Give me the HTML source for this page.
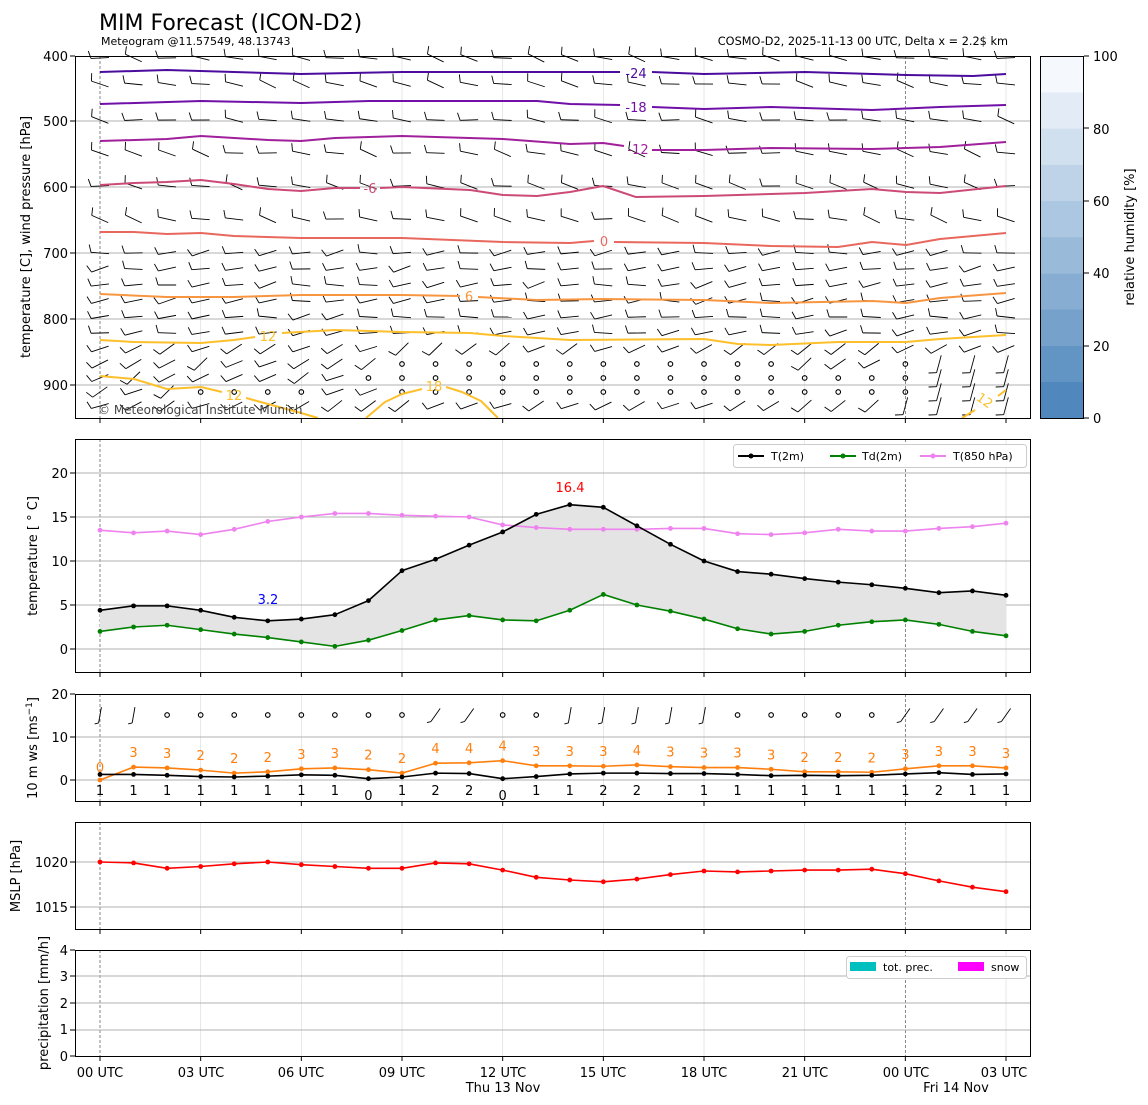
<!DOCTYPE html>
<html><head><meta charset="utf-8"><style>
body{margin:0;background:#fff;}
svg{display:block;font-family:"DejaVu Sans","Liberation Sans",sans-serif;}
</style></head><body>
<svg id="s" width="1148" height="1105" viewBox="0 0 1148 1105" xmlns="http://www.w3.org/2000/svg">
<rect width="1148" height="1105" fill="#fff"/>
<text x="99" y="30" font-size="22">MIM Forecast (ICON-D2)</text>
<text x="101" y="45" font-size="11">Meteogram @11.57549, 48.13743</text>
<text x="1008" y="45" font-size="11.3" text-anchor="end">COSMO-D2, 2025-11-13 00 UTC, Delta x = 2.2$ km</text>
<g id="grid" stroke-width="1"></g>
<g id="bars"></g>
<g id="plot"></g>
<g fill="none" stroke="#000" stroke-width="1">
<rect x="75.5" y="56.5" width="955" height="362"/>
<rect x="75.5" y="439.5" width="955" height="233"/>
<rect x="75.5" y="694.5" width="955" height="107"/>
<rect x="75.5" y="822.5" width="955" height="107"/>
<rect x="75.5" y="950.5" width="955" height="106"/>
<rect x="1040.5" y="56.5" width="43" height="362"/>
</g>
<g font-size="13" text-anchor="end">
<text x="68" y="61">400</text><text x="68" y="126">500</text><text x="68" y="192">600</text><text x="68" y="258">700</text><text x="68" y="324">800</text><text x="68" y="390">900</text>
<text x="68" y="478">20</text><text x="68" y="522">15</text><text x="68" y="566">10</text><text x="68" y="610">5</text><text x="68" y="654">0</text>
<text x="68" y="699">20</text><text x="68" y="742">10</text><text x="68" y="785">0</text>
<text x="68" y="867">1020</text><text x="68" y="912">1015</text>
<text x="68" y="955">4</text><text x="68" y="981">3</text><text x="68" y="1008">2</text><text x="68" y="1034">1</text><text x="68" y="1061">0</text>
</g>
<g font-size="13">
<text x="1093" y="61">100</text><text x="1093" y="134">80</text><text x="1093" y="206">60</text><text x="1093" y="278">40</text><text x="1093" y="351">20</text><text x="1093" y="423">0</text>
</g>
<g font-size="13" text-anchor="middle">
<text transform="translate(30,237) rotate(-90)">temperature [C], wind pressure [hPa]</text>
<text transform="translate(37,556) rotate(-90)">temperature [ ° C]</text>
<text transform="translate(37,748) rotate(-90)">10 m ws [ms<tspan font-size="9" dy="-5">−1</tspan><tspan dy="5">]</tspan></text>
<text transform="translate(20,876) rotate(-90)">MSLP [hPa]</text>
<text transform="translate(48,1003) rotate(-90)">precipitation [mm/h]</text>
<text transform="translate(1134,237) rotate(-90)">relative humidity [%]</text>
</g>
<g font-size="13" text-anchor="middle">
<text x="100" y="1077">00 UTC</text><text x="201" y="1077">03 UTC</text><text x="301" y="1077">06 UTC</text><text x="402" y="1077">09 UTC</text><text x="503" y="1077">12 UTC</text><text x="603" y="1077">15 UTC</text><text x="704" y="1077">18 UTC</text><text x="805" y="1077">21 UTC</text><text x="906" y="1077">00 UTC</text><text x="1004" y="1077">03 UTC</text>
<text x="503" y="1092">Thu 13 Nov</text><text x="956" y="1092">Fri 14 Nov</text>
</g>
<g font-size="13" text-anchor="middle">
<text x="636" y="78" fill="#4b0c9e">-24</text>
<text x="636" y="112" fill="#7010a6">-18</text>
<text x="638" y="154" fill="#a0209c">-12</text>
<text x="370" y="193" fill="#cc4a78">-6</text>
<text x="604" y="246" fill="#e8685e">0</text>
<text x="469" y="301" fill="#f89540">6</text>
<text x="268" y="341" fill="#fdbf2a">12</text>
<text x="234" y="400" fill="#fdbf2a">12</text>
<text x="434" y="391" fill="#fdbf2a">18</text>
<text x="985" y="405" fill="#fdbf2a" transform="rotate(35 985 400)">12</text>
</g>
<text x="98" y="414" font-size="12" fill="#444">© Meteorological Institute Munich</text>
<text x="570" y="492" font-size="13" fill="red" text-anchor="middle">16.4</text>
<text x="268" y="604" font-size="13" fill="blue" text-anchor="middle">3.2</text>
<g font-size="11">
<rect x="733.5" y="444.5" width="293" height="23" fill="#fff" stroke="#ccc" rx="3"/>
<line x1="738" y1="456" x2="764" y2="456" stroke="#000" stroke-width="2"/><circle cx="751" cy="456" r="2.5"/>
<text x="771" y="460">T(2m)</text>
<line x1="830" y1="456" x2="856" y2="456" stroke="green" stroke-width="2"/><circle cx="843" cy="456" r="2.5" fill="green"/>
<text x="862" y="460">Td(2m)</text>
<line x1="920" y1="456" x2="946" y2="456" stroke="violet" stroke-width="2"/><circle cx="933" cy="456" r="2.5" fill="violet"/>
<text x="953" y="460">T(850 hPa)</text>
<rect x="846.5" y="956.5" width="180" height="22" fill="#fff" stroke="#ccc" rx="3"/>
<rect x="850" y="962" width="26" height="9" fill="#00bfbf"/><text x="883" y="971">tot. prec.</text>
<rect x="958" y="962" width="26" height="9" fill="#f0f"/><text x="991" y="971">snow</text>
</g>
<g id="labels3" font-size="13" text-anchor="middle"></g>
</svg>
<script>
const NS="http://www.w3.org/2000/svg";
const G=id=>document.getElementById(id);
function el(p,t,a){const e=document.createElementNS(NS,t);for(const k in a)e.setAttribute(k,a[k]);p.appendChild(e);return e;}
const X=h=>100+h*33.556;
const bars=G('bars');
for(let i=0;i<10;i++){const f=i/9;const r=Math.round(80+f*(245-80)),g=Math.round(136+f*(249-136)),b=Math.round(189+f*(253-189));
el(bars,'rect',{x:1040,y:418-(i+1)*36.2,width:44,height:36.4,fill:`rgb(${r},${g},${b})`});}
const grid=G('grid');
const panels=[[56,418],[439,672],[694,801],[822,929],[950,1056]];
for(const [a,b] of panels){
 for(let h=0;h<=27;h+=3){const x=X(h);
  if(h==0||h==24) el(grid,'line',{x1:x,x2:x,y1:a,y2:b,stroke:'#555','stroke-dasharray':'3,2','stroke-width':0.7});
  else el(grid,'line',{x1:x,x2:x,y1:a,y2:b,stroke:'#ddd','stroke-width':0.7});
  el(grid,'line',{x1:x,x2:x,y1:b,y2:b+5,stroke:'#000'});
 }
}
const hl=(ys)=>ys.forEach(y=>el(grid,'line',{x1:75,x2:1031,y1:y,y2:y,stroke:'#b0b0b0','stroke-width':1}));
hl([121,187,253,319,385,473,517,561,605,649,737,780,862,907,976,1003,1030]);
[56,121,187,253,319,385,473,517,561,605,649,694,737,780,862,907,950,976,1003,1030,1056].forEach(y=>el(grid,'line',{x1:70,x2:75,y1:y,y2:y,stroke:'#000'}));
[56,128,201,273,346,418].forEach(y=>el(grid,'line',{x1:1084,x2:1089,y1:y,y2:y,stroke:'#000'}));
const plot=G('plot');
const rows=[58,84,120,153,186,219,253,269,285,301,317,333,349,364,378,392,406];
function rnd(i){const v=Math.sin(i*12.9898)*43758.5453;return v-Math.floor(v);}
const calm={364:[9,10,11,12,13,14,15,16,17,18,19,20,24],378:[8,9,10,11,12,13,14,15,16,17,18,19,20,21,22,23,24],392:[3,4,5,6,9,10,11,12,13,14,15,16,17,18,19,20,21,22,23,24]};
const bg=el(plot,'g',{stroke:'#000','stroke-width':0.9,fill:'none'});
rows.forEach((y,ri)=>{for(let h=0;h<28;h++){const x=X(h);
 if(calm[y]&&calm[y].includes(h)){el(bg,'circle',{cx:x,cy:y,r:2.3,'stroke-width':1.1});continue;}
 let ang=(ri<6?12:(ri<12?-8:-30))+ (rnd(ri*31+h)-0.5)*30;
 if(h>=24&&ri>=13) ang=-75;
 const a=ang*Math.PI/180;
 const x1=x-9*Math.cos(a),y1=y-9*Math.sin(a),x2=x+9*Math.cos(a),y2=y+9*Math.sin(a);
 el(bg,'line',{x1:x1,y1:y1,x2:x2,y2:y2});
 const fa=a-Math.PI/2-0.3;
 el(bg,'line',{x1:x1,y1:y1,x2:x1+8*Math.cos(fa),y2:y1+8*Math.sin(fa)});
}});
function poly(pts,c,w){el(plot,'polyline',{points:pts.map(p=>p.join(',')).join(' '),fill:'none',stroke:c,'stroke-width':w||2,'stroke-linejoin':'round'});}
poly([[100,72],[167,70],[234,72],[301,74],[402,72],[503,72],[620,72]],'#4b0c9e');poly([[652,72],[704,74],[805,72],[906,75],[973,76],[1006,74]],'#4b0c9e');
poly([[100,104],[201,101],[301,103],[369,101],[537,101],[570,104],[620,105]],'#7010a6');poly([[652,107],[704,109],[771,107],[872,110],[940,107],[1006,105]],'#7010a6');
poly([[100,141],[167,139],[201,136],[268,140],[301,141],[335,138],[402,136],[503,139],[570,144],[603,143],[624,146]],'#a0209c');poly([[652,150],[704,150],[771,148],[872,149],[940,147],[1006,142]],'#a0209c');
poly([[100,185],[134,183],[167,182],[201,180],[234,184],[268,189],[301,191],[335,188],[360,188]],'#cc4a78');poly([[380,188],[402,187],[470,190],[503,195],[537,196],[570,192],[603,186],[636,197],[704,196],[805,193],[872,189],[906,192],[940,193],[1006,186]],'#cc4a78');
poly([[100,232],[134,232],[167,234],[201,233],[234,236],[301,238],[402,238],[503,242],[570,243],[594,241]],'#e8685e');poly([[614,242],[704,243],[771,246],[838,247],[872,242],[906,245],[940,239],[1006,233]],'#e8685e');
poly([[100,294],[167,297],[234,297],[301,295],[402,295],[460,296]],'#f89540');poly([[478,297],[537,300],[603,299],[704,300],[771,303],[872,301],[906,303],[940,298],[1006,293]],'#f89540');
poly([[100,340],[134,342],[201,343],[234,340],[255,337]],'#fdbf2a');poly([[282,333],[335,330],[402,332],[470,333],[503,336],[570,340],[704,339],[738,344],[771,345],[838,342],[906,342],[940,339],[1006,335]],'#fdbf2a');
poly([[100,376],[134,379],[167,389],[201,387],[222,392]],'#fdbf2a');poly([[246,398],[268,404],[301,413],[318,418]],'#fdbf2a');
poly([[366,418],[385,402],[402,394],[422,389]],'#fdbf2a');poly([[446,387],[462,392],[481,401],[498,418]],'#fdbf2a');
poly([[962,418],[975,410]],'#fdbf2a');poly([[998,396],[1006,390]],'#fdbf2a');
const T=[4.4,4.9,4.9,4.4,3.6,3.2,3.4,3.9,5.5,8.9,10.2,11.8,13.3,15.3,16.4,16.1,14.0,11.9,10.0,8.8,8.5,8.0,7.6,7.3,6.9,6.4,6.6,6.1];
const Td=[2.0,2.5,2.7,2.2,1.7,1.3,0.8,0.3,1.0,2.1,3.3,3.8,3.3,3.2,4.4,6.2,5.0,4.3,3.4,2.3,1.7,2.0,2.7,3.1,3.3,2.8,2.0,1.5];
const T8=[13.5,13.2,13.4,13.0,13.6,14.5,15.0,15.4,15.4,15.2,15.1,15.0,14.1,13.8,13.6,13.6,13.6,13.7,13.7,13.1,13.0,13.2,13.6,13.4,13.4,13.7,13.9,14.3];
const Y2=v=>649-v*8.8;
let fp=T.map((v,i)=>X(i)+','+Y2(v)).concat(Td.map((v,i)=>X(i)+','+Y2(v)).reverse());
el(plot,'polygon',{points:fp.join(' '),fill:'#e4e4e4'});
function series(d,yf,c){poly(d.map((v,i)=>[X(i),yf(v)]),c,1.6);d.forEach((v,i)=>el(plot,'circle',{cx:X(i),cy:yf(v),r:2.4,fill:c}));}
series(T8,Y2,'violet');series(Td,Y2,'green');series(T,Y2,'#000');
const Y3=v=>780-v*4.3;
const W=[1.3,1.3,1.1,0.8,0.7,0.9,1.2,1.1,0.3,0.7,1.6,1.5,0.3,0.8,1.4,1.6,1.6,1.5,1.5,1.3,1.0,1.1,1.0,1.1,1.4,1.7,1.3,1.4];
const Gs=[0,3,2.8,2.3,1.6,1.9,2.6,2.8,2.4,1.6,3.9,4.0,4.5,3.3,3.3,3.2,3.5,3.1,2.9,2.9,2.5,1.9,1.9,1.8,2.6,3.3,3.3,2.8];
const WL=[1,1,1,1,1,1,1,1,0,1,2,2,0,1,1,2,2,1,1,1,1,1,1,1,1,2,1,1];
const GL=[0,3,3,2,2,2,3,3,2,2,4,4,4,3,3,3,4,3,3,3,3,2,2,2,3,3,3,3];
series(Gs,Y3,'#ff7f0e');series(W,Y3,'#000');
const lb=G('labels3');
GL.forEach((v,i)=>{const t=el(lb,'text',{x:X(i),y:(i==0?772:Y3(Gs[i])-10),fill:'#ff7f0e'});t.textContent=v;});
WL.forEach((v,i)=>{const t=el(lb,'text',{x:X(i),y:(v==0?800:795)});t.textContent=v;});
const calm3=[2,3,4,5,6,7,8,9,12,13,19,20,21,22,23];
for(let h=0;h<28;h++){const x=X(h),y=715;
 if(calm3.includes(h)){el(bg,'circle',{cx:x,cy:y,r:2.3,'stroke-width':1.1});continue;}
 let a=(h>=10&&h<=11||h>=24)?-55:-80; a=a*Math.PI/180;
 const x1=x-8*Math.cos(a),y1=y-8*Math.sin(a),x2=x+8*Math.cos(a),y2=y+8*Math.sin(a);
 el(bg,'line',{x1:x1,y1:y1,x2:x2,y2:y2});el(bg,'line',{x1:x1,y1:y1,x2:x1-4,y2:y1+1});
}
const P=[1020.0,1019.9,1019.3,1019.5,1019.8,1020.0,1019.7,1019.5,1019.3,1019.3,1019.9,1019.8,1019.1,1018.3,1018.0,1017.8,1018.1,1018.6,1019.0,1018.9,1019.0,1019.1,1019.1,1019.2,1018.7,1017.9,1017.2,1016.7];
series(P,v=>862-(v-1020)*9,'red');
</script>
</body></html>
